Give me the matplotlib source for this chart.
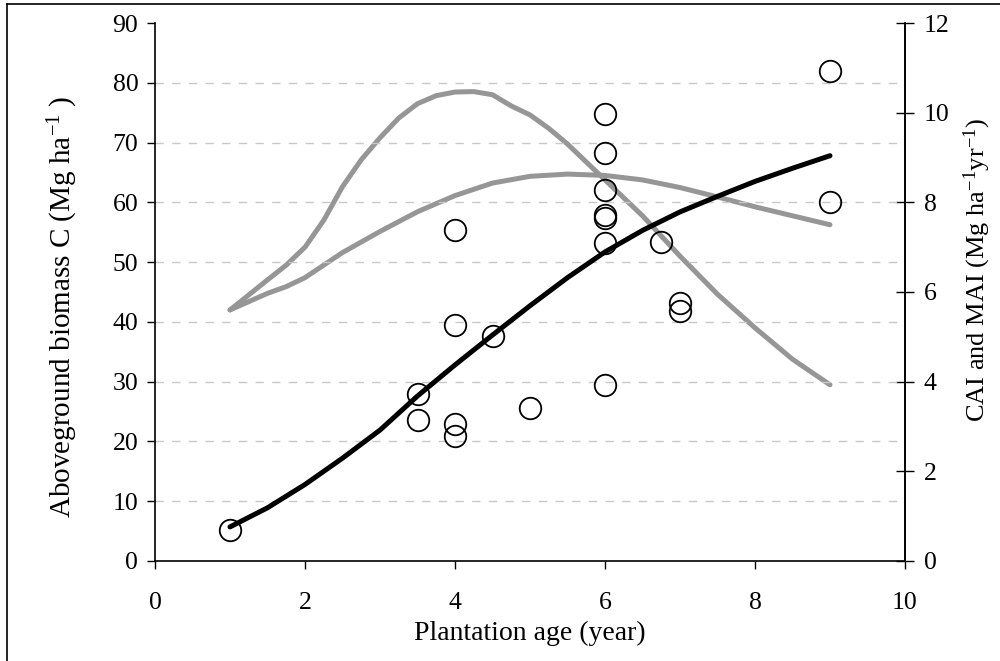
import matplotlib
matplotlib.use("Agg")
import matplotlib.pyplot as plt
from matplotlib.lines import Line2D

plt.rcParams['font.family'] = ['Liberation Serif', 'DejaVu Serif']
plt.rcParams['mathtext.fontset'] = 'custom'
plt.rcParams['mathtext.rm'] = 'Liberation Serif'
plt.rcParams['mathtext.it'] = 'Liberation Serif:italic'

# observed plots: plantation age (year) vs aboveground biomass C (Mg/ha)
obs_age = [1, 3.5, 3.5, 4, 4, 4, 4, 4.5, 5, 6, 6, 6, 6, 6, 6, 6, 6.75, 7, 7, 9, 9]
obs_biomass = [5.2, 28.0, 23.6, 55.4, 39.4, 23.0, 20.9, 37.6, 25.6,
               74.8, 68.2, 62.0, 57.9, 57.4, 53.2, 29.4, 53.4, 43.1, 41.9, 81.9, 60.0]

# fitted growth curve (left axis)
fit_age = [1, 1.5, 2, 2.5, 3, 3.5, 4, 4.5, 5, 5.5, 6, 6.5, 7, 7.5, 8, 8.5, 9]
fit_biomass = [5.7, 8.9, 12.8, 17.2, 21.9, 27.6, 32.8, 37.8, 42.7, 47.4, 51.7,
               55.3, 58.4, 61.0, 63.5, 65.7, 67.8]

# current annual increment (right axis)
cai_age = [1, 1.5, 1.75, 2, 2.25, 2.5, 2.75, 3, 3.25, 3.5, 3.75, 4, 4.25, 4.5,
           4.75, 5, 5.25, 5.5, 5.75, 6, 6.5, 7, 7.5, 8, 8.5, 9]
cai = [5.6, 6.27, 6.6, 7.0, 7.6, 8.35, 8.95, 9.44, 9.88, 10.2, 10.38, 10.46,
       10.47, 10.4, 10.15, 9.95, 9.65, 9.3, 8.9, 8.5, 7.7, 6.8, 5.95, 5.2, 4.5, 3.93]

# mean annual increment (right axis)
mai_age = [1, 1.5, 1.75, 2, 2.5, 3, 3.5, 4, 4.5, 5, 5.5, 6, 6.5, 7, 7.5, 8, 8.5, 9]
mai = [5.6, 5.97, 6.12, 6.32, 6.88, 7.35, 7.79, 8.15, 8.43, 8.58, 8.63, 8.6,
       8.5, 8.33, 8.12, 7.9, 7.7, 7.5]

fig = plt.figure(figsize=(10, 6.61), dpi=100)
ax = fig.add_axes([0.155, 0.1513, 0.75, 0.8139])
ax2 = ax.twinx()

gray = '#969696'
ax2.plot(cai_age, cai, color=gray, lw=3.6, solid_capstyle='round', zorder=2)
ax2.plot(mai_age, mai, color=gray, lw=3.6, solid_capstyle='round', zorder=2)
ax2.set_ylim(0, 12)
ax2.set_yticks(range(0, 13, 2))

ax.plot(fit_age, fit_biomass, color='black', lw=3.6, solid_capstyle='round', zorder=3)
ax.plot(obs_age, obs_biomass, 'o', mfc='none', mec='black', mew=1.3, ms=15.5,
        zorder=4)

# draw left axis contents above the twin axis
ax.set_zorder(ax2.get_zorder() + 1)
ax.patch.set_visible(False)

ax.set_xlim(0, 10)
ax.set_ylim(0, 90)
ax.set_xticks(range(0, 11, 2))
ax.set_yticks(range(0, 91, 10))
for yv in range(10, 90, 10):
    ax.axhline(yv, color='#c8c8c8', lw=1.0, ls=(0, (6, 6)), zorder=0)

for a in (ax, ax2):
    a.spines['top'].set_visible(False)
    for s in a.spines.values():
        s.set_linewidth(1.2)
ax2.spines['left'].set_visible(False)
ax2.spines['bottom'].set_visible(False)

ax.tick_params(axis='both', direction='out', length=6, width=1.0, labelsize=18.5,
               pad=6)
ax.tick_params(axis='x', pad=16)
ax2.tick_params(axis='y', direction='inout', length=13, width=1.0, labelsize=18.5,
                pad=7)

ax.set_xlabel('Plantation age (year)', fontsize=20)
ax.set_ylabel('Aboveground biomass C (Mg ha$^{-1}$ )', fontsize=21)
ax2.set_ylabel('CAI and MAI (Mg ha$^{-1}$yr$^{-1}$)', fontsize=19)
ax.xaxis.set_label_coords(0.5, -0.112)
ax.yaxis.set_label_coords(-0.1, 0.472)
ax2.yaxis.set_label_coords(1.075, 0.54)

# outer frame
fig.add_artist(Line2D([0.007, 0.007], [0, 0.994], color='black', lw=1.2,
                      transform=fig.transFigure))
fig.add_artist(Line2D([0.007, 1.0], [0.994, 0.994], color='black', lw=1.2,
                      transform=fig.transFigure))

fig.savefig('out.png', dpi=100)
